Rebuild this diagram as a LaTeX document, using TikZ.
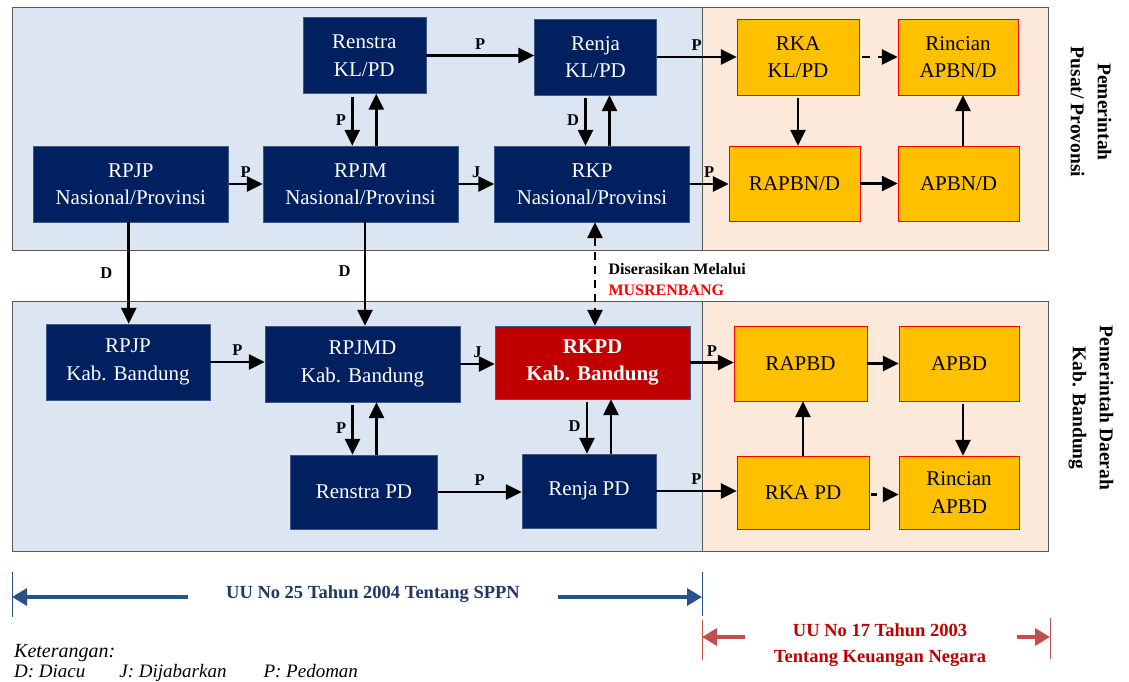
\documentclass[tikz,border=0pt]{standalone}
\usepackage{fontspec}
\setmainfont{Liberation Serif}
\usetikzlibrary{arrows.meta, positioning}
\definecolor{navy}{HTML}{002060}
\definecolor{boxred}{HTML}{C00000}
\definecolor{gold}{HTML}{FFC000}
\definecolor{panelblue}{HTML}{DCE6F2}
\definecolor{panelpeach}{HTML}{FDE9D9}
\definecolor{rulegray}{HTML}{595959}
\definecolor{lawblue}{HTML}{2B5286}
\definecolor{lawnavy}{HTML}{1F3864}
\definecolor{lawred}{HTML}{C0504D}

\begin{document}
\begin{tikzpicture}[x=1pt, y=-1pt,
      navybox/.style={
         rectangle,
         draw=navy!75!white,
         fill=navy,
         text=white,
         align=center,
         inner sep=0pt,
         font=\fontsize{21}{27.5}\selectfont},
      redbox/.style={
         navybox,
         fill=boxred,
         font=\fontsize{21}{27.5}\selectfont\bfseries},
      goldbox/.style={
         rectangle,
         draw=red,
         fill=gold,
         text=black,
         align=center,
         inner sep=0pt,
         font=\fontsize{21}{27.5}\selectfont},
      panel/.style={draw=rulegray, line width=0.8pt},
      lbl/.style={font=\fontsize{16.5}{18}\selectfont\bfseries, inner sep=5pt},
      myarrow/.style={-{Triangle[length=16pt,width=15pt]}, line width=2.8pt},
      dasharrow/.style={myarrow, dash pattern=on 8pt off 8pt},
      bluearrow/.style={-{Triangle[length=15pt,width=17pt]}, line width=3.5pt, draw=lawblue},
      redarrow/.style={-{Triangle[length=15pt,width=17pt]}, line width=3.5pt, draw=lawred}
      ]
      \useasboundingbox (0,0) rectangle (1129,681);

      % panels
      \draw[panel, fill=panelblue] (12,7) rectangle (702,250);
      \draw[panel, fill=panelpeach] (702,7) rectangle (1048,250);
      \draw[panel, fill=panelblue] (12,301) rectangle (702,551);
      \draw[panel, fill=panelpeach] (702,301) rectangle (1048,551);

      % pusat / provinsi
      \node[navybox, minimum width=123pt, minimum height=76pt] (renstra) at (364.3,55.5) {Renstra\\KL/PD};
      \node[navybox, minimum width=122pt, minimum height=76pt] (renja) at (595.5,57) {Renja\\KL/PD};
      \node[navybox, minimum width=195pt, minimum height=76pt] (rpjp) at (130.8,184) {RPJP\\Nasional/Provinsi};
      \node[navybox, minimum width=195pt, minimum height=76pt] (rpjm) at (360.5,184) {RPJM\\Nasional/Provinsi};
      \node[navybox, minimum width=195pt, minimum height=76pt] (rkp) at (592,184) {RKP\\Nasional/Provinsi};
      \node[goldbox, minimum width=122pt, minimum height=76pt] (rka) at (798,57) {RKA\\KL/PD};
      \node[goldbox, minimum width=120pt, minimum height=76pt] (rincian) at (958,57) {Rincian\\APBN/D};
      \node[goldbox, minimum width=131pt, minimum height=75pt] (rapbn) at (794.5,183.5) {RAPBN/D};
      \node[goldbox, minimum width=121pt, minimum height=75pt] (apbn) at (958.5,183.5) {APBN/D};

      % kab. bandung
      \node[navybox, minimum width=164pt, minimum height=76pt] (rpjpk) at (128,362) {RPJP\\Kab. Bandung};
      \node[navybox, minimum width=195pt, minimum height=76pt] (rpjmd) at (362.5,364) {RPJMD\\Kab. Bandung};
      \node[redbox, minimum width=195pt, minimum height=73pt] (rkpd) at (592.5,362.5) {RKPD\\Kab. Bandung};
      \node[navybox, minimum width=147pt, minimum height=74pt] (renstrapd) at (364,492) {Renstra PD};
      \node[navybox, minimum width=134pt, minimum height=74pt] (renjapd) at (589,491) {Renja PD};
      \node[goldbox, minimum width=133pt, minimum height=75pt] (rapbd) at (800.5,363.5) {RAPBD};
      \node[goldbox, minimum width=120pt, minimum height=75pt] (apbd) at (959,363.5) {APBD};
      \node[goldbox, minimum width=132pt, minimum height=73pt] (rkapd) at (803,492.5) {RKA PD};
      \node[goldbox, minimum width=120pt, minimum height=73pt] (rincianapbd) at (959,492.5) {Rincian\\APBD};

    \foreach \i/\j/\txt in {% start node/end node/text
      rpjp/rpjm/P,
      rpjm/rkp/J,
      renstra/renja/P,
      renja/rka/P,
      rkp/rapbn/P,
      rapbn/apbn/{},
      rpjpk/rpjmd/P,
      rpjmd/rkpd/J,
      renstrapd/renjapd/P,
      rkpd/rapbd/P,
      renjapd/rkapd/P,
      rapbd/apbd/{}}
       \draw [myarrow] (\i.east) -- node[lbl,above] {\txt} (\i.east -| \j.west);

    % pairs of vertical arrows, down one labelled
    \foreach \u/\l/\dx/\txt in {%
      renstra/rpjm/-12/P,
      renja/rkp/-10/D,
      rpjmd/renstrapd/-10/P,
      rkpd/renjapd/-5.5/D}
    {
       \draw [myarrow, shorten <=3pt] ([xshift=\dx pt]\u.south) -- node[lbl,left] {\txt} ([xshift=\dx pt]\u.south |- \l.north);
       \draw [myarrow] ([xshift=\dx pt+24pt]\u.south |- \l.north) -- ([xshift=\dx pt+24pt]\u.south);
    }

     % diacu ke kabupaten
     \draw [myarrow] ([xshift=-2pt]rpjp.south) -- node[lbl,left,inner sep=15pt] {D} ([xshift=-2pt]rpjp.south |- rpjpk.north);
     \draw [myarrow] ([xshift=4.5pt]rpjm.south) -- node[lbl,left,inner sep=13pt,yshift=3pt] {D} ([xshift=4.5pt]rpjm.south |- rpjmd.north);

     % anggaran
     \draw [myarrow, shorten <=3pt] (rka.south) -- (rka.south |- rapbn.north);
     \draw [myarrow] ([xshift=4.5pt]apbn.north) -- ([xshift=4.5pt]apbn.north |- rincian.south);
     \draw [myarrow] (rkapd.north) -- (rkapd.north |- rapbd.south);
     \draw [myarrow, shorten <=3pt] ([xshift=4pt]apbd.south) -- ([xshift=4pt]apbd.south |- rincianapbd.north);
     \draw [dasharrow, shorten <=3pt] (rka.east) -- (rka.east -| rincian.west);
     \draw [dasharrow, dash pattern=on 6pt off 10pt, shorten <=2pt] ([yshift=-2pt]rkapd.east) -- ([yshift=-2pt]rkapd.east -| rincianapbd.west);

     % musrenbang
     \draw [{Triangle[length=16pt,width=15pt]}-{Triangle[length=16pt,width=15pt]}, line width=2.8pt, dash pattern=on 8pt off 6pt]
        ([xshift=3pt]rkp.south) -- ([xshift=3pt]rkp.south |- rkpd.north);
     \node[anchor=west, align=left, font=\fontsize{16}{21}\selectfont\bfseries] (musren) at (605,280)
        {Diserasikan Melalui\\\textcolor{red}{MUSRENBANG}};

     % pemerintah
     \node[rotate=-90, align=center, font=\fontsize{19.5}{27}\selectfont\bfseries] (pusat) at (1091,112) {Pemerintah\\Pusat/ Provonsi};
     \node[rotate=-90, align=center, font=\fontsize{19.5}{27}\selectfont\bfseries] (daerah) at (1091,408) {Pemerintah Daerah\\Kab. Bandung};

     % undang-undang
     \coordinate (sppnl) at (12,597);
     \coordinate (sppnr) at (702,597);
     \coordinate (kul) at (702,637);
     \coordinate (kur) at (1050,637);
     \draw[lawblue, line width=1pt] (12,572) -- (12,617) (702,572) -- (702,616);
     \node[font=\fontsize{18.5}{22}\selectfont\bfseries, text=lawnavy] (sppn) at (373,594) {UU No 25 Tahun 2004 Tentang SPPN};
     \draw[bluearrow] (188,597) -- (sppnl);
     \draw[bluearrow] (558,597) -- (sppnr);
     \draw[lawred, line width=1pt] (702,620) -- (702,660) (1050,618) -- (1050,659);
     \node[font=\fontsize{18.5}{26}\selectfont\bfseries, text=boxred, align=center] (keu) at (880,645) {UU No 17 Tahun 2003\\Tentang Keuangan Negara};
     \draw[redarrow] (745,637) -- (kul);
     \draw[redarrow] (1017,637) -- (kur);

     % keterangan
     \node[anchor=base west, font=\fontsize{20}{22}\selectfont\itshape, inner sep=0pt] (ket) at (14,657) {Keterangan:};
     \node[anchor=base west, font=\fontsize{19}{22}\selectfont\itshape, inner sep=0pt] (singkatan) at (14,677) {D: Diacu\hspace{34pt}J: Dijabarkan\hspace{37pt}P: Pedoman};
    \end{tikzpicture}
\end{document}
